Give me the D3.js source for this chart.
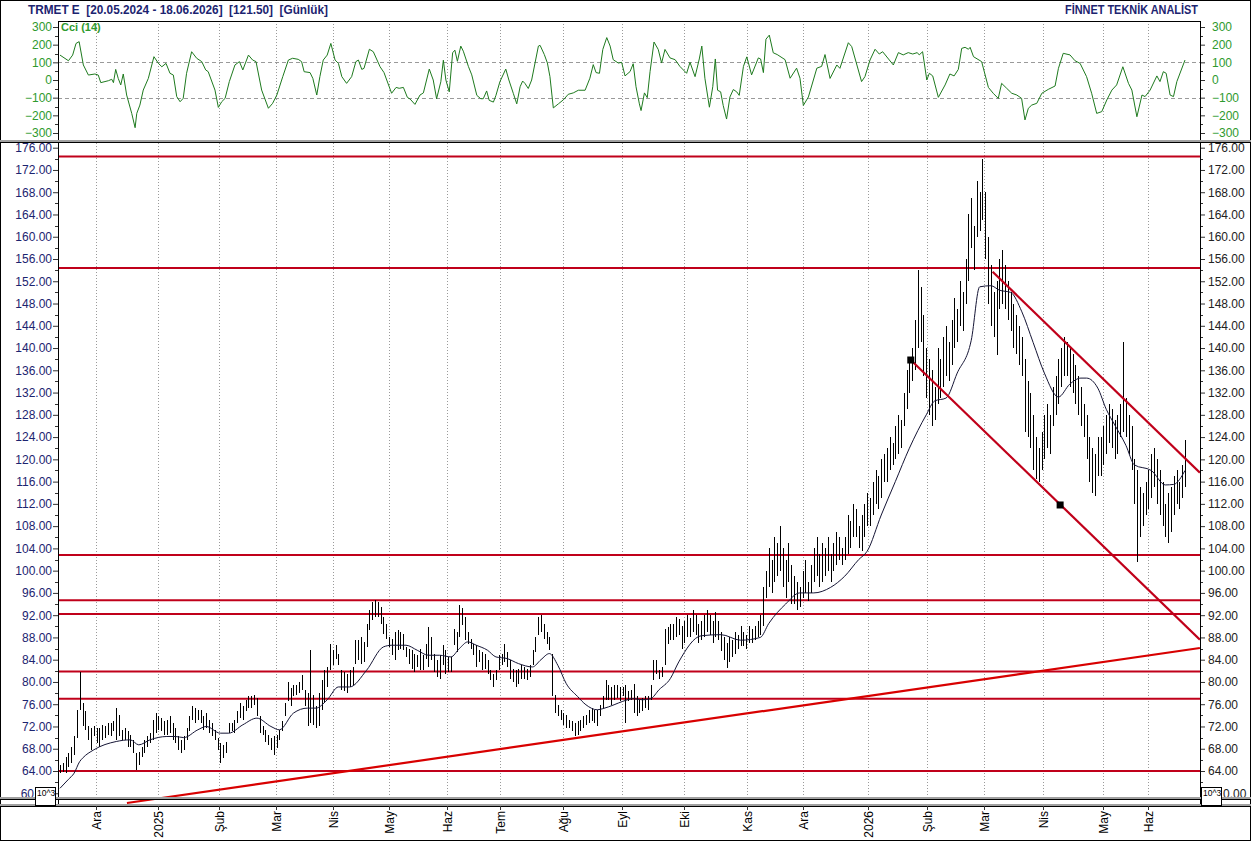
<!DOCTYPE html>
<html><head><meta charset="utf-8">
<script src="https://cdn.jsdelivr.net/npm/d3@7"></script>
<style>
body{margin:0;background:#fff}
svg{display:block}
text{font-family:"Liberation Sans",Arial,sans-serif}
</style></head>
<body><svg id="c" width="1251" height="841"></svg>
<script>
// ---------- DATA ----------
const highs=[
65.1,65.4,66.6,67.2,68.4,70.2,75.0,81.8,76.2,74.7,
72.0,71.7,72.0,71.7,71.7,72.3,72.0,72.6,72.6,72.9,
75.3,74.1,71.4,71.7,71.1,70.5,69.6,67.2,67.5,68.4,
69.6,70.2,70.8,73.2,74.4,73.8,73.5,72.9,73.2,73.8,
72.6,71.7,70.2,69.6,70.2,71.7,73.8,75.6,75.3,75.0,
75.0,73.8,74.4,73.2,72.6,71.4,69.9,69.0,68.7,69.3,
72.6,72.6,73.2,74.7,76.2,75.6,76.8,77.4,77.4,77.7,
77.1,73.8,72.0,71.4,70.5,69.9,70.2,70.5,71.4,72.9,
76.2,80.0,78.9,79.4,79.4,80.0,81.2,78.6,78.0,85.7,
77.7,75.6,78.0,80.3,82.1,82.7,86.9,85.7,86.6,85.1,
82.1,81.8,81.5,82.1,82.7,87.5,87.5,88.1,87.2,90.5,
92.9,94.4,94.7,94.4,93.5,91.7,90.5,88.1,87.8,89.0,
89.3,89.0,88.7,86.3,86.0,85.7,85.1,84.8,86.0,84.8,
86.9,89.9,88.1,85.1,83.9,84.8,86.6,85.7,84.5,84.5,
89.6,89.0,93.8,93.2,91.7,89.0,87.8,86.9,86.6,85.7,
85.4,85.1,83.9,82.1,81.5,82.1,84.8,85.1,86.9,85.4,
83.9,82.4,82.1,82.4,83.0,82.7,82.4,83.0,85.7,88.1,
91.7,92.0,90.5,89.0,88.1,85.1,77.7,75.9,75.0,74.4,
74.1,73.2,72.9,72.6,72.9,73.2,73.8,74.1,75.0,75.3,
75.0,75.0,75.9,77.4,80.3,79.4,79.1,79.4,79.4,79.1,
79.1,79.4,78.3,78.6,79.7,77.4,76.8,77.1,77.4,77.4,
79.4,83.9,83.9,82.1,82.7,89.6,89.9,90.5,90.5,91.7,
91.4,90,91,92,91.5,93,92,90.5,91,92,
93,92,91,92.5,91,89,88,87,88,87.5,
89,88.5,90,89,88.5,90,89.5,90,91,92,
97,100,104,102,106,105,108,104,102,105,
101,99,98,97,100,102,98,101,104,106,
103,105,104,106,103,105,107,106,104,106,
110,109,112,111,108,110,112,114,113,116,
118,117,120,121,122,124,123,126,128,127,
132,136,138,140,145,154,151,146,140,138,
136,133,140,138,142,144,141,145,149,147,
152,150,156,164,167,162,170,168,174,168,
160,155,150,152,156,157.6,155,152,150,148,
146,144,142,138,134,132,128,124,122,125,
128,130,128,133,135,138,140,142,141,140,
139,137,135,133,130,128,124,122,121,124,
124,126,128,130,129,127,128,130,141,131,
128,126,120,118,115,114,116,118,121,122,
120,118,116,112,114,115,117,118,116,119,123.5];
const lows=[
63.6,63.9,63.6,64.8,65.4,66.9,69.9,75.0,72.0,71.4,
69.6,67.8,70.2,69.0,68.4,69.6,69.9,70.5,70.2,71.1,
69.6,70.2,69.6,69.6,68.4,68.4,67.2,64.2,65.1,66.6,
67.2,68.4,69.0,69.6,70.8,71.4,71.1,70.5,70.5,70.8,
69.6,69.0,67.8,67.2,67.8,69.6,71.1,73.2,72.6,73.2,
72.6,71.4,71.7,70.8,70.2,69.6,67.8,65.4,66.3,67.2,
70.8,71.1,70.8,72.6,73.5,73.2,74.7,75.3,75.3,75.9,
73.8,70.8,70.5,69.3,68.7,67.8,66.9,68.1,69.6,71.1,
73.8,76.5,75.6,77.4,77.7,78.0,78.6,75.6,72.0,72.6,
72.3,71.7,72.0,75.0,76.2,79.1,82.1,83.0,84.2,83.0,
78.6,78.3,78.0,79.1,79.4,83.3,83.9,83.3,83.6,86.3,
89.3,91.1,91.7,91.7,90.5,88.7,87.8,86.3,84.8,83.9,
85.7,86.0,85.7,84.5,83.3,82.4,81.8,82.7,82.1,82.1,
84.2,82.7,83.9,81.8,80.9,80.6,83.0,81.5,81.8,81.8,
86.6,85.4,88.1,90.2,87.5,86.9,86.0,84.8,82.7,83.6,
82.1,82.4,81.5,80.3,79.1,80.3,82.1,83.0,83.6,82.7,
80.6,80.0,79.1,79.7,80.6,80.6,80.3,80.9,83.0,85.4,
88.4,89.0,87.8,86.9,85.7,77.4,74.4,73.8,73.2,72.3,
71.7,71.7,71.1,70.2,70.5,71.1,71.7,72.3,72.6,72.9,
72.6,72.0,73.8,75.3,76.8,76.8,75.9,76.8,77.1,76.5,
77.4,72.6,76.5,76.8,74.4,73.8,74.4,74.7,75.3,75.0,
76.8,80.3,81.5,80.6,80.9,83.0,86.9,87.5,87.5,88.1,
88.4,86,87,88,88,89,88.5,87,87.5,88,
89,88.5,87,88,87.5,85.5,84,82.5,83.5,84.5,
85,86,86.5,86.5,86,87,87,87.5,88,88.5,
90,95,97,96,98,99,100,97,95,98,
94,94,93,93.5,95,96,94.5,96,98,99,
97,98,99,100,98,100,101,102,101,102,
103,104,106,106,104,103.5,106,108,108,110,
112,111,113,116,116,118,119,120,121,122,
126,129,132,134,136,140,141,135,131,128,
126,127,130,131,133,135,134,137,140,141,
144,143,148,152,158,154,160,161,163,156,
148,144,142,138.7,147,148,147,145,143,140,
139,137,135,125,124,122,118,116.5,116,118,
120,122,121,126,128,130,133,135,135,133,
132,130,128,126,124,120,116,114,113.5,117,
117,119,121,123,122,120,121,124,125,124,
121,118,112,101.6,106,108,110,111,113,115,
112,110,108,106,105,107,110,112,111,113,115];

const maIdx=[0,3,5,7,8,12,20,25,28,32,38,41,44,49,52,57,60,65,70,75,78,83,88,91,95,99,103,109,115,118,123,127,131,135,139,142,145,148,152,155,159,163,168,171,174,177,180,184,187,191,193,197,200,204,207,210,213,217,220,228,235,242,249,252,258,263,268,274,279,284,287,292,297,302,308,311,315,319,324,327,331,334,338,342,346,350,355,359,363,365,369,372,375,379,382,388,393,396,400];
const maVal=[60.9,62.5,63.6,65.7,66.3,67.8,69.3,69.6,68.7,69.6,70.2,70.2,70.0,71.4,72.0,70.8,70.8,72.3,73.5,72.0,71.4,74.4,75.3,75.3,76.8,79.1,79.1,82.1,86.3,86.6,86.6,85.7,84.8,84.8,84.5,86.0,87.2,86.6,85.7,84.5,84.2,83.3,82.7,84.0,85.1,83.0,79.7,77.4,75.9,75.0,75.2,75.9,76.5,77.0,76.8,77.0,78.6,80.6,83.6,88.3,88.5,87.5,88,90.5,94,96,96,97,99,102,103.5,110,116,122,128,130.5,131,135.5,141.4,151,151.2,150.4,150,146.5,141,135.5,131.2,133.5,134.6,134.6,132.8,129,126.2,122.5,119,118,115.4,115.5,118];

const cciIdx=[0,3,4.5,5.7,6.8,8.3,10.1,12.4,13.6,14.5,17.2,18.4,19.0,19.8,20.7,21.6,22.5,23.7,25.5,26.7,27.3,28.4,29.6,31.4,33.4,35.0,36.2,37.7,39.1,40.3,41.5,42.7,43.8,45.0,46.8,48.6,50.4,51.8,52.7,55.1,56.3,57.5,58.7,60.2,62.2,63.8,65.0,67.0,68.5,69.7,71.7,74.1,75.6,77.1,79.2,81.2,82.7,84.7,85.9,86.8,88.9,89.9,91.3,92.4,93.6,95.0,96.3,97.8,99.0,100.2,101.9,103.7,105.2,106.1,107.3,108.1,110.0,111.4,113.8,115.2,117.9,119.5,120.6,122.1,123.5,124.5,126.2,128.0,129.2,131.3,132.7,133.9,135.4,136.3,137.2,138.4,139.6,140.4,141.3,142.5,143.4,145.2,146.4,148.2,149.6,150.5,151.7,152.6,154.1,155.0,156.4,158.5,159.6,161.2,162.4,163.6,164.5,165.3,166.5,167.7,170.1,170.7,172.2,173.3,174.2,175.4,177.2,179.0,180.7,182.5,184.3,186.7,188.4,189.6,190.6,191.8,193.0,194.4,195.6,196.7,198.5,199.7,200.9,202.7,203.8,204.8,206.0,206.6,207.8,208.8,209.8,211.2,212.7,213.9,215.1,216.9,218.7,220.4,222.8,224.0,225.8,227.3,228.2,229.3,230.9,232.1,233.0,233.8,234.9,235.8,237.0,238.2,239.4,240.6,241.5,243.0,244.2,245.9,248.3,249.1,250.1,251.0,252.2,253.6,255.0,257.8,259.6,261.9,263.1,264.3,266.1,269.1,270.8,272.0,273.8,276.2,277.3,280.3,281.5,285.0,286.2,288.0,289.8,291.3,292.5,296.3,298.1,299.8,301.6,303.2,304.8,305.5,306.7,308.2,309.1,310.3,312.3,314.7,316.4,317.9,319.4,320.6,321.8,323.0,323.6,324.8,327.7,330.1,331.8,333.6,334.8,336.6,338.4,340.2,341.9,343.1,344.3,345.5,347.3,349.1,351.4,353.8,355.0,356.7,359.1,360.9,362.7,365.0,366.8,368.6,370.4,372.2,374.0,375.7,377.9,379.9,381.1,382.9,384.7,385.8,387.6,390.0,391.1,392.3,393.3,394.7,395.9,397.1,400];
const cciVal=[141,109,141,207,217,85,28,34,28,-15,-4,4,-15,60,9,-28,34,-85,-189,-270,-189,-142,-57,9,132,94,75,94,38,28,-94,-123,-104,38,160,123,104,57,47,-57,-155,-123,-104,-9,85,104,57,141,113,104,-57,-160,-132,-85,19,113,123,117,104,47,42,9,-85,19,113,141,207,113,94,19,-19,19,104,113,60,66,174,160,75,42,-75,-42,-47,-42,-98,-108,-138,-85,-73,62,0,-106,-10,112,0,-67,154,169,106,192,163,77,29,-87,-106,-106,-62,-115,-125,-87,-10,62,0,-77,-135,-38,-6,-19,-48,0,192,196,144,96,19,-158,-135,-112,-81,-73,-58,-58,10,87,42,38,173,240,192,115,96,100,23,48,92,-38,-135,-173,-73,-100,48,215,173,96,173,125,115,77,38,100,19,119,192,10,-154,-38,119,-58,-67,-144,-221,-96,-54,-67,-87,77,131,29,125,119,42,231,254,154,144,115,10,67,10,-144,-96,67,77,144,9,85,66,211,189,-9,19,113,174,147,160,85,155,142,155,147,155,142,160,0,38,23,-98,-28,34,23,60,179,185,174,185,132,104,-42,-75,-104,-19,-47,-75,-85,-104,-226,-160,-142,-132,-75,-53,-34,66,151,142,109,94,19,-75,-189,-179,-113,-57,-28,75,-19,-57,-208,-85,-94,-57,23,-9,47,38,-85,-94,-9,113];

const monthLabels=["Ara","2025","Şub","Mar","Nis","May","Haz","Tem","Ağu","Eyl","Eki","Kas","Ara","2026","Şub","Mar","Nis","May","Haz"];
const monthIdx=[12.7,34.7,56.4,76.8,97.2,117.1,137.5,156.4,178.7,199.7,222,244.2,264.3,287.4,308.3,328.6,349.6,371,387];
const priceTicks=[60,64,68,72,76,80,84,88,92,96,100,104,108,112,116,120,124,128,132,136,140,144,148,152,156,160,164,168,172,176];
const cciTicks=[-300,-200,-100,0,100,200,300];
const hLevels=[174.4,154.4,102.8,94.7,92.2,81.9,77.0,64.0];
const supportLine=[[23.8,58.25],[405.3,86.1]];
const channelUpper=[[331.6,153.7],[405.3,117.6]];
const channelLower=[[302.5,137.85],[405.3,87.6]];
const anchorPoints=[[302.5,137.85],[355.6,111.8]];
const headerLeft="TRMET E  [20.05.2024 - 18.06.2026]  [121.50]  [Günlük]";
const headerRight="FİNNET TEKNİK ANALİST";
const scaleNote="10^3";

// ---------- LAYOUT ----------
const svg=d3.select("#c");
const L=58,R=1200, cT=21,cB=140, pT=143,pB=798;
const x=d3.scaleLinear().domain([0,400]).range([60,1185]);
const y=d3.scaleLinear().domain([64,176]).range([771,147.7]);
const yc=d3.scaleLinear().domain([-300,300]).range([133,27]);
const navy="#1c2470", green="#2e9a2e";

svg.append("rect").attr("x",0.5).attr("y",0.5).attr("width",1250).attr("height",840).attr("fill","#fff").attr("stroke","#000");

const defs=svg.append("defs");
defs.append("clipPath").attr("id","cp").append("rect").attr("x",L).attr("y",pT).attr("width",R-L).attr("height",806-pT);
defs.append("clipPath").attr("id","cc").append("rect").attr("x",L).attr("y",cT).attr("width",R-L).attr("height",cB-cT);

// header
svg.append("text").attr("x",28).attr("y",14).attr("font-size",12).attr("font-weight","bold").attr("fill",navy)
  .attr("xml:space","preserve").attr("textLength",300).attr("lengthAdjust","spacingAndGlyphs").text(headerLeft);
svg.append("text").attr("x",1065).attr("y",14).attr("font-size",12).attr("font-weight","bold").attr("fill",navy)
  .attr("textLength",133).attr("lengthAdjust","spacingAndGlyphs").text(headerRight);

// vertical grid
const grid=svg.append("g").attr("stroke","#9a9a9a").attr("stroke-dasharray","1,2").attr("shape-rendering","crispEdges");
monthIdx.forEach(m=>{
  const xx=Math.round(x(m))+0.5;
  grid.append("line").attr("x1",xx).attr("x2",xx).attr("y1",cT).attr("y2",cB);
  grid.append("line").attr("x1",xx).attr("x2",xx).attr("y1",pT).attr("y2",pB);
});

// CCI panel
[100,-100].forEach(v=>{
  svg.append("line").attr("x1",L).attr("x2",R).attr("y1",Math.round(yc(v))+0.5).attr("y2",Math.round(yc(v))+0.5)
    .attr("stroke","#9a9a9a").attr("stroke-dasharray","4,3").attr("shape-rendering","crispEdges");
});
const cciPts=cciIdx.map((d,i)=>[d,cciVal[i]]);
svg.append("path").attr("clip-path","url(#cc)").attr("d",d3.line().x(d=>x(d[0])).y(d=>yc(d[1]))(cciPts))
  .attr("fill","none").attr("stroke","#1e7a1e").attr("stroke-width",1);
svg.append("text").attr("x",61).attr("y",31).attr("font-size",11).attr("font-weight","bold").attr("fill",green).text("Cci (14)");

const cAxL=d3.axisLeft(yc).tickValues(cciTicks).tickSize(5).tickFormat(d3.format("d"));
const gcl=svg.append("g").attr("transform",`translate(${L},0)`).call(cAxL);
gcl.select(".domain").remove();
gcl.selectAll("text").attr("fill",green).attr("font-size",12).attr("x",-6).attr("font-family","Liberation Sans, Arial");
gcl.selectAll("line").attr("stroke","#333");
const cAxR=d3.axisRight(yc).tickValues(cciTicks).tickSize(5).tickFormat(d3.format("d"));
const gcr=svg.append("g").attr("transform",`translate(${R},0)`).call(cAxR);
gcr.select(".domain").remove();
gcr.selectAll("text").attr("fill",green).attr("font-size",12).attr("x",12).attr("font-family","Liberation Sans, Arial");
gcr.selectAll("line").attr("stroke","#333");
const cciMinor=cciTicks.slice(0,-1).map(v=>v+50);
cciMinor.forEach(v=>{
  const yy=Math.round(yc(v))+0.5;
  svg.append("line").attr("x1",L-3).attr("x2",L).attr("y1",yy).attr("y2",yy).attr("stroke","#333");
  svg.append("line").attr("x1",R).attr("x2",R+3).attr("y1",yy).attr("y2",yy).attr("stroke","#333");
});

// main panel: horizontal levels
const plot=svg.append("g").attr("clip-path","url(#cp)");
hLevels.forEach(v=>{
  plot.append("line").attr("x1",L).attr("x2",R).attr("y1",y(v)).attr("y2",y(v)).attr("stroke","#c0001a").attr("stroke-width",2);
});
// bars
const bars=plot.append("g").attr("stroke","#000").attr("stroke-width",1).attr("shape-rendering","crispEdges");
highs.forEach((h,i)=>{
  const xx=Math.round(x(i))+0.5;
  bars.append("line").attr("x1",xx).attr("x2",xx).attr("y1",y(h)).attr("y2",y(lows[i]));
});
// MA
const maPts=maIdx.map((d,i)=>[d,maVal[i]]);
plot.append("path").attr("d",d3.line().curve(d3.curveMonotoneX).x(d=>x(d[0])).y(d=>y(d[1]))(maPts))
  .attr("fill","none").attr("stroke","#151535").attr("stroke-width",1);
// trend lines
[supportLine,channelUpper,channelLower].forEach((ln,k)=>{
  plot.append("line").attr("x1",x(ln[0][0])).attr("y1",y(ln[0][1])).attr("x2",x(ln[1][0])).attr("y2",y(ln[1][1]))
    .attr("stroke",k===0?"#d80000":"#c0001a").attr("stroke-width",2.2);
});
anchorPoints.forEach(p=>{
  plot.append("rect").attr("x",x(p[0])-3.5).attr("y",y(p[1])-3.5).attr("width",7).attr("height",7).attr("fill","#000");
});

// price axes (lowest label partly covered by the 10^3 box in the original)
const fmt=d3.format(".2f");
const pAxL=d3.axisLeft(y).tickValues(priceTicks).tickSize(5).tickFormat(d=>d===priceTicks[0]?"":fmt(d));
const gpl=svg.append("g").attr("transform",`translate(${L},0)`).call(pAxL);
gpl.select(".domain").remove();
gpl.selectAll("text").attr("fill",navy).attr("font-size",12).attr("x",-6).attr("font-family","Liberation Sans, Arial");
gpl.selectAll("line").attr("stroke","#333");
const pAxR=d3.axisRight(y).tickValues(priceTicks).tickSize(5).tickFormat(d=>d===priceTicks[0]?"":fmt(d));
const gpr=svg.append("g").attr("transform",`translate(${R},0)`).call(pAxR);
gpr.select(".domain").remove();
gpr.selectAll("text").attr("fill","#222").attr("font-size",12).attr("x",8).attr("font-family","Liberation Sans, Arial");
gpr.selectAll("line").attr("stroke","#333");
priceTicks.map(v=>v+2).forEach(v=>{
  const yy=Math.round(y(v))+0.5;
  if(yy<pT||yy>pB) return;
  svg.append("line").attr("x1",L-3).attr("x2",L).attr("y1",yy).attr("y2",yy).attr("stroke","#333");
  svg.append("line").attr("x1",R).attr("x2",R+3).attr("y1",yy).attr("y2",yy).attr("stroke","#333");
});
// visible parts of the 60.00 labels
const lowLbl=fmt(priceTicks[0]);
svg.append("text").attr("x",34).attr("y",y(priceTicks[0])+4.5).attr("text-anchor","end").attr("font-size",12).attr("fill",navy).text(lowLbl.slice(0,2));
svg.append("text").attr("x",1223).attr("y",y(priceTicks[0])+4.5).attr("font-size",12).attr("fill","#222").text(lowLbl.slice(1));

// frame lines
const fr=svg.append("g").attr("shape-rendering","crispEdges");
fr.append("line").attr("x1",L+0.5).attr("x2",L+0.5).attr("y1",cT).attr("y2",806).attr("stroke","#000");
fr.append("line").attr("x1",R+0.5).attr("x2",R+0.5).attr("y1",cT).attr("y2",806).attr("stroke","#000");
fr.append("line").attr("x1",L).attr("x2",R).attr("y1",cT+0.5).attr("y2",cT+0.5).attr("stroke","#000");
fr.append("rect").attr("x",0).attr("y",140).attr("width",1251).attr("height",2).attr("fill","#a0a0a0");
fr.append("rect").attr("x",0).attr("y",142).attr("width",1251).attr("height",1).attr("fill","#000");
fr.append("rect").attr("x",0).attr("y",797).attr("width",1251).attr("height",2).attr("fill","#a0a0a0");
fr.append("rect").attr("x",0).attr("y",799).attr("width",1251).attr("height",1).attr("fill","#000");
fr.append("rect").attr("x",0).attr("y",804).attr("width",1251).attr("height",1.5).attr("fill","#a0a0a0");
fr.append("rect").attr("x",0).attr("y",805.5).attr("width",1251).attr("height",1).attr("fill","#000");

// x axis labels
monthIdx.forEach((m,i)=>{
  const xx=Math.round(x(m))+0.5;
  svg.append("line").attr("x1",xx).attr("x2",xx).attr("y1",806).attr("y2",810).attr("stroke","#333");
  svg.append("text").attr("transform",`translate(${xx+4},811) rotate(-90)`).attr("text-anchor","end")
    .attr("font-size",12).attr("fill","#000").text(monthLabels[i]);
});

// 10^3 boxes
[[35,787],[1201,787]].forEach(p=>{
  svg.append("rect").attr("x",p[0]+0.5).attr("y",p[1]+0.5).attr("width",20).attr("height",18).attr("fill","#fff").attr("stroke","#000");
  svg.append("text").attr("x",p[0]+2).attr("y",p[1]+9).attr("font-size",8.5).attr("fill","#000").text(scaleNote);
});
</script></body></html>
